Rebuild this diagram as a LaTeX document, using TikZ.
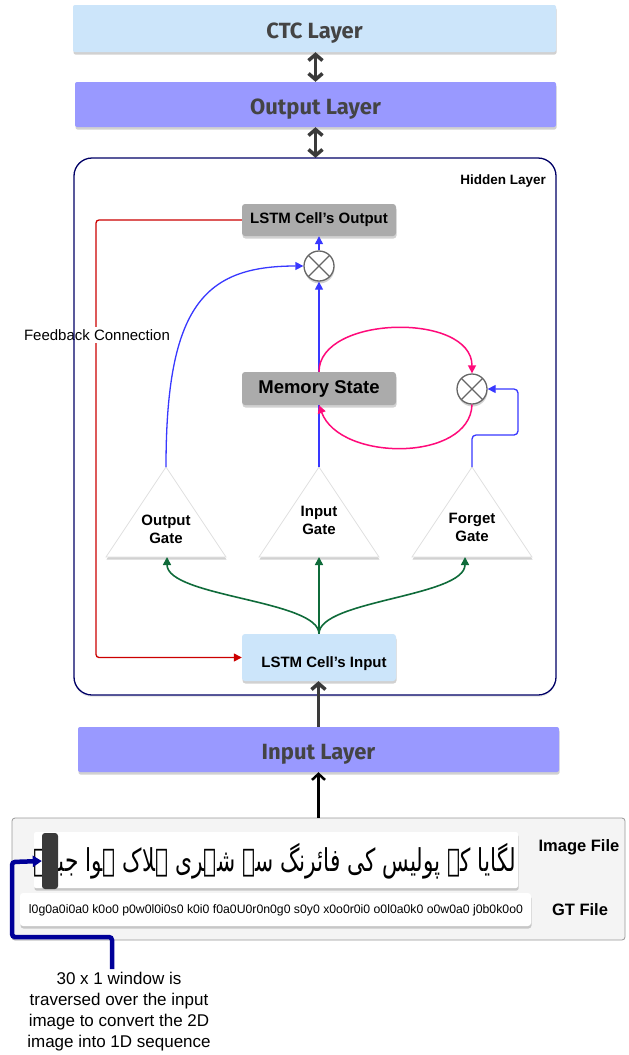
\documentclass[tikz,border=0pt]{standalone}
\usepackage{fontspec}
\setmainfont{Liberation Sans}
\newfontfamily\layerfont{Fira Sans}
\newfontfamily\urdufont[Script=Arabic]{DejaVu Sans}
\TeXXeTstate=1
\usetikzlibrary{arrows.meta,shadows,calc}
\definecolor{ctcblue}{HTML}{CCE5FA}
\definecolor{lavender}{HTML}{9999FF}
\definecolor{boxgray}{HTML}{ABABAB}
\definecolor{layertext}{HTML}{444444}
\definecolor{navyline}{HTML}{000066}
\definecolor{navypath}{HTML}{000099}
\definecolor{linkblue}{HTML}{3838FF}
\definecolor{pinkline}{HTML}{FF0A7A}
\definecolor{redline}{HTML}{CC0000}
\definecolor{greenline}{HTML}{0F6B3A}
\definecolor{darkarrow}{HTML}{3A3A3A}
\definecolor{framegray}{HTML}{F4F4F4}
\tikzset{
  softshadow/.style={drop shadow={shadow xshift=0.5pt, shadow yshift=-2.5pt, opacity=0.18, fill=black}},
  layerbox/.style={rectangle, rounded corners=2pt, inner sep=0pt, text=layertext,
    font=\layerfont\bfseries\fontsize{22}{25}\selectfont, softshadow},
  cellbox/.style={rectangle, rounded corners=3pt, inner sep=0pt, fill=boxgray, softshadow,
    font=\bfseries\fontsize{15}{18}\selectfont},
  gatetext/.style={align=center, inner sep=0pt, font=\bfseries\fontsize{15}{18}\selectfont},
  gateshape/.style={fill=white, draw=black!12, line width=0.8pt, softshadow},
  mult/.style={circle, draw=black!60, line width=1.3pt, fill=white, minimum size=30pt, inner sep=0pt,
    softshadow,
    path picture={\draw[black!60, line width=1.3pt]
      (path picture bounding box.north west) -- (path picture bounding box.south east)
      (path picture bounding box.north east) -- (path picture bounding box.south west);}},
  bluelink/.style={draw=linkblue, line width=1.3pt},
  bluetip/.style={-{Triangle[length=8pt,width=8pt]}},
  pinklink/.style={draw=pinkline, line width=1.5pt, -{Triangle[length=8pt,width=8pt]}},
  redlink/.style={draw=redline, line width=1.3pt, rounded corners=3pt, -{Triangle[length=8pt,width=8pt]}},
  greenlink/.style={draw=greenline, line width=1.6pt, -{Triangle[length=8pt,width=8pt]}},
  dblarrow/.style={draw=darkarrow, line width=3.5pt,
    {Straight Barb[length=6pt,width=14pt]}-{Straight Barb[length=6pt,width=14pt]}},
  uparrow/.style={draw=darkarrow, line width=3.5pt, -{Straight Barb[length=6pt,width=14pt]}},
  blackarrow/.style={draw=black, line width=2.5pt, -{Straight Barb[length=6pt,width=13pt]}},
  filelabel/.style={font=\bfseries\fontsize{16.5}{20}\selectfont, inner sep=0pt},
}
\begin{document}
\begin{tikzpicture}[x=1pt,y=-1pt]
\useasboundingbox[fill=white] (0,0) rectangle (629,1055);

% layers
\node[layerbox, fill=ctcblue, minimum width=483pt, minimum height=47pt] (ctc) at (314.5,28.5) {\raisebox{-10pt}[0pt][0pt]{CTC Layer}};
\node[layerbox, fill=lavender, minimum width=481pt, minimum height=45pt] (outl) at (315.5,104.5) {\raisebox{-10pt}[0pt][0pt]{Output Layer}};
\node[layerbox, fill=lavender, minimum width=481pt, minimum height=45pt] (inl) at (318.5,749.5) {\raisebox{-9.5pt}[0pt][0pt]{Input Layer}};

% hidden layer background
\node[rectangle, rounded corners=18pt, fill=white, minimum width=482pt, minimum height=537pt, inner sep=0pt,
  drop shadow={shadow xshift=0pt, shadow yshift=-2pt, opacity=0.08, fill=black}] (hidden) at (315,426.5) {};
\node[anchor=east, inner sep=0pt, font=\bfseries\fontsize{13.5}{16}\selectfont] (hlabel) at (546,181) {Hidden Layer};

\draw[dblarrow] (outl.north |- ctc.south) -- (outl.north);
\draw[dblarrow] (outl.south) -- (outl.south |- hidden.north);

% cell boxes
\node[cellbox, minimum width=154pt, minimum height=32pt] (lout) at (319,220) {LSTM Cell's Output};
\node[cellbox, minimum width=154pt, minimum height=33pt, font=\bfseries\fontsize{18.5}{22}\selectfont] (mem) at (319,388.5) {Memory State};
\node[cellbox, fill=ctcblue, minimum width=154pt, minimum height=47pt] (lin) at (319,657.5) {\hspace{10pt}\raisebox{-10pt}[0pt][0pt]{LSTM Cell's Input}};

% multipliers
\node[mult] (m1) at (319,266) {};
\node[mult] (m2) at (472,389) {};

% gates
\coordinate (ogtop) at (166,467); \coordinate (ogbot) at (167,557);
\coordinate (igtop) at (319,467); \coordinate (igbot) at (319,557);
\coordinate (fgtop) at (472,467); \coordinate (fgbot) at (465,557);
\path[gateshape] (ogtop) -- (226,557) -- (106,557) -- cycle;
\path[gateshape] (igtop) -- (379,557) -- (259,557) -- cycle;
\path[gateshape] (fgtop) -- (532,557) -- (412,557) -- cycle;
\node[gatetext] (og) at (166,529) {Output\\Gate};
\node[gatetext] (ig) at (319,520) {Input\\Gate};
\node[gatetext] (fg) at (472,527) {Forget\\Gate};

% blue connectors
\draw[bluelink, bluetip] (m1.north) -- (lout.south);
\draw[bluelink, bluetip] (mem.north) -- (m1.south);
\draw[bluelink, bluetip] (ogtop) .. controls (166,305) and (205,266) .. (m1.west);
\draw[bluelink] (igtop) -- (mem.south);
\draw[bluelink, bluetip, rounded corners=4pt] (fgtop) -- (472,435) -- (518,435) -- (518,389) -- (m2.east);

% pink loop
\draw[pinklink] (mem.north) .. controls (319,315) and (472,312) .. (m2.north);
\draw[pinklink] (m2.south) .. controls (470,462) and (340,462) .. (mem.south);

% green connectors
\draw[greenlink] (lin.north) -- (igbot);
\draw[greenlink] (lin.north) .. controls (319,600) and (167,597) .. (ogbot);
\draw[greenlink] (lin.north) .. controls (319,600) and (465,597) .. (fgbot);

% feedback
\draw[redlink] (lout.west) -- (96,220) -- (96,657.5) -- (lin.west);
\node[fill=white, inner xsep=1pt, inner ysep=2pt, font=\fontsize{15}{18}\selectfont] (fb) at (97,335) {Feedback Connection};

% hidden layer border on top
\node[rectangle, rounded corners=18pt, draw=navyline, line width=1.3pt, minimum width=482pt, minimum height=537pt, inner sep=0pt] (hiddenborder) at (hidden.center) {};

\draw[uparrow] (inl.north) -- (inl.north |- lin.south);

% files
\node[rectangle, rounded corners=3pt, fill=framegray, draw=black!40, line width=0.8pt,
  minimum width=613pt, minimum height=122pt, inner sep=0pt] (files) at (318.5,879) {};
\draw[blackarrow] (files.north) -- (inl.south);
\node[rectangle, rounded corners=2pt, fill=white, minimum width=484pt, minimum height=56pt, inner sep=0pt, softshadow] (strip) at (276,860) {};
\begin{scope}
\clip (strip.south west) rectangle (strip.north east);
\node[anchor=east, inner sep=0pt] (urdu) at (516,861) {\scalebox{1}[1.45]{\resizebox{482pt}{!}{\urdufont\beginR لگایا کہ پولیس کی فائرنگ سے شہری ہلاک ہوا جبکہ\endR}}};
\end{scope}
\node[rectangle, rounded corners=3pt, fill=darkarrow, minimum width=16pt, minimum height=56pt, inner sep=0pt] (win) at (50,861) {};
\node[rectangle, rounded corners=3pt, fill=white, minimum width=511pt, minimum height=33pt, inner sep=0pt, softshadow] (gtstrip) at (275.5,909.5) {};
\node[inner sep=0pt] (gttext) at (276,910) {\resizebox{494pt}{!}{\fontsize{11}{13}\selectfont l0g0a0i0a0 k0o0 p0w0l0i0s0 k0i0 f0a0U0r0n0g0 s0y0 x0o0r0i0 o0l0a0k0 o0w0a0 j0b0k0o0}};
\node[filelabel] (imgfile) at (579,847) {Image File};
\node[filelabel] (gtfile) at (580,910) {GT File};

% window explanation
\node[align=center, inner sep=0pt, font=\fontsize{17}{21}\selectfont] (wtxt) at (119,1012) {30 x 1 window is\\traversed over the input\\image to convert the 2D\\image into 1D sequence};
\coordinate (wstart) at (112,969);
\draw[draw=navypath, line width=4.5pt, rounded corners=3pt, -{Triangle[length=9pt,width=11pt]}]
  (wstart) -- (112,937) -- (12,937) -- (12,862) -- (win.west);
\end{tikzpicture}
\end{document}
